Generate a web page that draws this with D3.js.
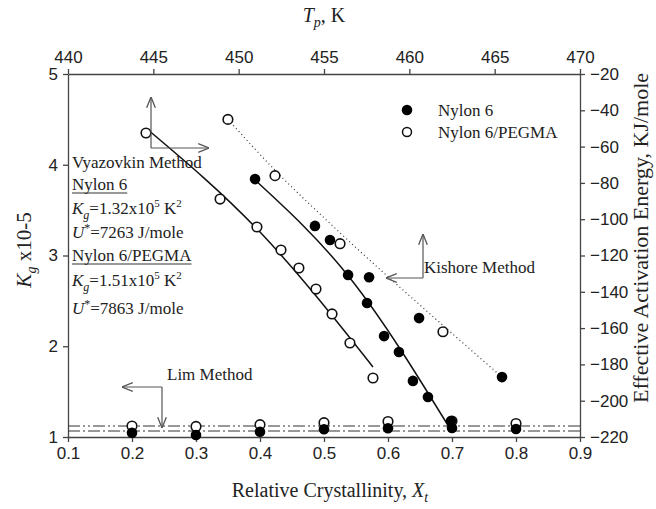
<!DOCTYPE html>
<html lang="en">
<head>
<meta charset="utf-8">
<title>Kg and effective activation energy vs crystallinity</title>
<style>
body { margin: 0; background: #fff; }
svg text { fill: #222; }
.tick text { font-family: "Liberation Sans", Arial, sans-serif; font-size: 17px; }
.serif { font-family: "Liberation Serif", "Times New Roman", serif; }
</style>
<script src="https://cdn.jsdelivr.net/npm/d3@7"></script>
</head>
<body>
<div id="chart"></div>
<script>
// Vyazovkin method: Tp (top axis) vs effective activation energy (right axis)
var vyaPegT = [444.57, 448.91, 451.07, 452.48, 453.53, 454.53, 455.47, 456.52, 457.87];
var vyaPegE = [-52.5, -88.9, -104.3, -117.0, -126.9, -138.5, -152.2, -168.2, -187.5];
var vyaPegFitT = [444.63, 451.25, 457.87];
var vyaPegFitE = [-50.3, -107.1, -181.4];

var vyaNyT = [450.96, 454.47, 456.41, 457.52, 458.52, 459.39, 460.21, 461.09, 462.44];
var vyaNyE = [-77.9, -103.7, -130.7, -146.2, -164.4, -173.2, -189.1, -198.0, -211.2];
var vyaNyFitT = [450.96, 456.52, 462.5];
var vyaNyFitE = [-78.4, -132.4, -217.2];

// Kishore method: Tp (top axis) vs Kg (left axis)
var kisPegT = [449.37, 452.13, 455.94, 461.97];
var kisPegKg = [4.50, 3.88, 3.13, 2.16];
var kisNyT = [455.35, 457.64, 460.57, 465.43];
var kisNyKg = [3.17, 2.76, 2.31, 1.66];
var kisFitT = [449.37, 452.13, 455.94, 461.97, 465.43];
var kisFitKg = [4.50, 3.94, 3.25, 2.23, 1.66];

// Lim method: Xt (bottom axis) vs Kg (left axis)
var limXt = [0.2, 0.3, 0.4, 0.5, 0.6, 0.7, 0.8];
var limPegKg = [1.121, 1.116, 1.136, 1.158, 1.171, 1.176, 1.149];
var limNyKg = [1.047, 1.022, 1.058, 1.085, 1.096, 1.099, 1.088];
var limPegMean = 1.121;
var limNyMean = 1.066;

var xtTicks = [0.1, 0.2, 0.3, 0.4, 0.5, 0.6, 0.7, 0.8, 0.9];
var tpTicks = [440, 445, 450, 455, 460, 465, 470];
var kgTicks = [1, 2, 3, 4, 5];
var eTicks = [-220, -200, -180, -160, -140, -120, -100, -80, -60, -40, -20];

var width = 656, height = 509;
var plotL = 68, plotR = 580, plotT = 74, plotB = 437;
var axisColor = "#444";
var annSize = 17;

var svg = d3.select("#chart").append("svg")
    .attr("width", width)
    .attr("height", height);

var x = d3.scaleLinear().domain([0.1, 0.9]).range([plotL, plotR]);
var xT = d3.scaleLinear().domain([440, 470]).range([plotL, plotR]);
var y = d3.scaleLinear().domain([1, 5]).range([plotB, plotT]);
var yE = d3.scaleLinear().domain([-220, -20]).range([plotB, plotT]);

function styleAxis(g) {
    g.selectAll("path").attr("stroke", axisColor).attr("stroke-width", 1.3);
    g.selectAll("line").attr("stroke", axisColor).attr("stroke-width", 1.3);
    g.selectAll("text").attr("fill", "#222");
}

svg.append("g").attr("transform", "translate(0," + plotB + ")")
    .call(d3.axisBottom(x).tickValues(xtTicks).tickFormat(d3.format(".1f")).tickSize(5).tickSizeOuter(0).tickPadding(5))
    .call(styleAxis);
svg.append("g").attr("transform", "translate(0," + plotT + ")")
    .call(d3.axisTop(xT).tickValues(tpTicks).tickSize(5).tickSizeOuter(0).tickPadding(6))
    .call(styleAxis);
svg.append("g").attr("transform", "translate(" + plotL + ",0)")
    .call(d3.axisLeft(y).tickValues(kgTicks).tickFormat(d3.format("d")).tickSize(5).tickSizeOuter(0).tickPadding(5))
    .call(styleAxis);
svg.append("g").attr("transform", "translate(" + plotR + ",0)")
    .call(d3.axisRight(yE).tickValues(eTicks).tickSize(5).tickSizeOuter(0).tickPadding(5))
    .call(styleAxis);

// axis titles
var tTitle = svg.append("text").attr("class", "serif").attr("x", 324).attr("y", 22)
    .attr("text-anchor", "middle").attr("font-size", 20);
tTitle.append("tspan").attr("font-style", "italic").text("T");
tTitle.append("tspan").attr("font-style", "italic").attr("font-size", 14).attr("dy", 5).text("p");
tTitle.append("tspan").attr("dy", -5).text(", K");

var xTitle = svg.append("text").attr("class", "serif").attr("x", 330).attr("y", 497)
    .attr("text-anchor", "middle").attr("font-size", 20);
xTitle.append("tspan").text("Relative Crystallinity, ");
xTitle.append("tspan").attr("font-style", "italic").text("X");
xTitle.append("tspan").attr("font-style", "italic").attr("font-size", 14).attr("dy", 5).text("t");

var kTitle = svg.append("text").attr("class", "serif")
    .attr("transform", "translate(31,250) rotate(-90)")
    .attr("text-anchor", "middle").attr("font-size", 21);
kTitle.append("tspan").attr("font-style", "italic").text("K");
kTitle.append("tspan").attr("font-style", "italic").attr("font-size", 14).attr("dy", 5).text("g");
kTitle.append("tspan").attr("dy", -5).text(" x10-5");

svg.append("text").attr("class", "serif")
    .attr("transform", "translate(648,238) rotate(-90)")
    .attr("text-anchor", "middle").attr("font-size", 22)
    .text("Effective Activation Energy, KJ/mole");

// fitted lines
var lineTE = d3.line().x(function(d) { return xT(d[0]); }).y(function(d) { return yE(d[1]); }).curve(d3.curveMonotoneX);
var lineTK = d3.line().x(function(d) { return xT(d[0]); }).y(function(d) { return y(d[1]); }).curve(d3.curveMonotoneX);

svg.append("path").datum(d3.zip(vyaPegFitT, vyaPegFitE)).attr("d", lineTE)
    .attr("fill", "none").attr("stroke", "#111").attr("stroke-width", 1.5);
svg.append("path").datum(d3.zip(vyaNyFitT, vyaNyFitE)).attr("d", lineTE)
    .attr("fill", "none").attr("stroke", "#111").attr("stroke-width", 1.5);
svg.append("path").datum(d3.zip(kisFitT, kisFitKg)).attr("d", lineTK)
    .attr("fill", "none").attr("stroke", "#333").attr("stroke-width", 1.2)
    .attr("stroke-dasharray", "1,3");

// Lim mean lines
svg.append("line").attr("x1", plotL).attr("x2", plotR)
    .attr("y1", y(limPegMean)).attr("y2", y(limPegMean))
    .attr("stroke", "#333").attr("stroke-width", 1.2).attr("stroke-dasharray", "12,3,2,3,2,3");
svg.append("line").attr("x1", plotL).attr("x2", plotR)
    .attr("y1", y(limNyMean)).attr("y2", y(limNyMean))
    .attr("stroke", "#333").attr("stroke-width", 1.2).attr("stroke-dasharray", "12,3,2,3");

// points
function openPts(px, py) {
    svg.append("g").selectAll("circle").data(d3.zip(px, py)).enter().append("circle")
        .attr("cx", function(d) { return d[0]; }).attr("cy", function(d) { return d[1]; })
        .attr("r", 4.8).attr("fill", "#fff").attr("stroke", "#111").attr("stroke-width", 1.6);
}
function filledPts(px, py) {
    svg.append("g").selectAll("circle").data(d3.zip(px, py)).enter().append("circle")
        .attr("cx", function(d) { return d[0]; }).attr("cy", function(d) { return d[1]; })
        .attr("r", 5.3).attr("fill", "#000");
}
openPts(limXt.map(x), limPegKg.map(y));
filledPts(limXt.map(x), limNyKg.map(y));
openPts(vyaPegT.map(xT), vyaPegE.map(yE));
filledPts(vyaNyT.map(xT), vyaNyE.map(yE));
openPts(kisPegT.map(xT), kisPegKg.map(y));
filledPts(kisNyT.map(xT), kisNyKg.map(y));

// legend
svg.append("circle").attr("cx", 407).attr("cy", 110).attr("r", 5.3).attr("fill", "#000");
svg.append("circle").attr("cx", 407).attr("cy", 132).attr("r", 4.5).attr("fill", "#fff")
    .attr("stroke", "#111").attr("stroke-width", 1.5);
svg.append("text").attr("class", "serif").attr("x", 438).attr("y", 116).attr("font-size", annSize).text("Nylon 6");
svg.append("text").attr("class", "serif").attr("x", 438).attr("y", 138).attr("font-size", annSize).text("Nylon 6/PEGMA");

// annotation arrows
var defs = svg.append("defs");
defs.append("marker").attr("id", "arr").attr("viewBox", "0 0 10 10")
    .attr("refX", 10).attr("refY", 5).attr("markerWidth", 9).attr("markerHeight", 9)
    .attr("orient", "auto-start-reverse")
    .append("path").attr("d", "M0,1 L10,5 L0,9").attr("fill", "none")
    .attr("stroke", "#555").attr("stroke-width", 1.2);

function arrow(x1, y1, x2, y2) {
    svg.append("line").attr("x1", x1).attr("y1", y1).attr("x2", x2).attr("y2", y2)
        .attr("stroke", "#555").attr("stroke-width", 1.2).attr("marker-end", "url(#arr)");
}
arrow(151, 148, 151, 97);
arrow(151, 148, 209, 148);
arrow(423, 278, 423, 234);
arrow(423, 278, 386, 278);
arrow(162, 387, 122, 387);
arrow(162, 387, 162, 428);

svg.append("text").attr("class", "serif").attr("x", 424).attr("y", 273).attr("font-size", annSize).text("Kishore Method");
svg.append("text").attr("class", "serif").attr("x", 167).attr("y", 380).attr("font-size", annSize).text("Lim Method");

// Vyazovkin block
var bx = 72;
svg.append("text").attr("class", "serif").attr("x", bx).attr("y", 168).attr("font-size", annSize).text("Vyazovkin Method");

function underlined(txt, yy) {
    var t = svg.append("text").attr("class", "serif").attr("x", bx).attr("y", yy).attr("font-size", annSize).text(txt);
    var w = t.node().getComputedTextLength();
    svg.append("line").attr("x1", bx).attr("x2", bx + w).attr("y1", yy + 3).attr("y2", yy + 3)
        .attr("stroke", "#333").attr("stroke-width", 1);
}
function kgLine(val, yy) {
    var t = svg.append("text").attr("class", "serif").attr("x", bx).attr("y", yy).attr("font-size", annSize);
    t.append("tspan").attr("font-style", "italic").text("K");
    t.append("tspan").attr("font-style", "italic").attr("font-size", 12).attr("dy", 5).text("g");
    t.append("tspan").attr("dy", -5).text("=" + val + "x10");
    t.append("tspan").attr("font-size", 11).attr("dy", -7).text("5");
    t.append("tspan").attr("dy", 7).text(" K");
    t.append("tspan").attr("font-size", 11).attr("dy", -7).text("2");
}
function uLine(val, yy) {
    var t = svg.append("text").attr("class", "serif").attr("x", bx).attr("y", yy).attr("font-size", annSize);
    t.append("tspan").attr("font-style", "italic").text("U");
    t.append("tspan").attr("font-size", 12).attr("dy", -6).text("*");
    t.append("tspan").attr("dy", 6).text("=" + val + " J/mole");
}
underlined("Nylon 6", 190);
kgLine("1.32", 214);
uLine("7263", 238);
underlined("Nylon 6/PEGMA", 261);
kgLine("1.51", 286);
uLine("7863", 314);
</script>
</body>
</html>
